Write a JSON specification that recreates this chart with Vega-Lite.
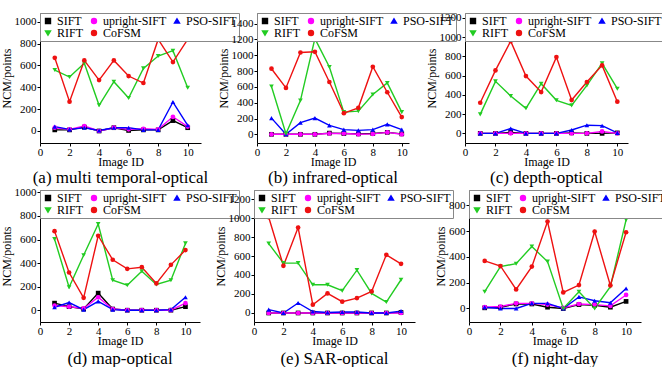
{
  "$schema": "https://vega.github.io/schema/vega-lite/v6.json",
  "padding": {"left": 0, "top": 11, "right": 0, "bottom": 0},
  "background": "white",
  "datasets": {
    "d": [
      {"p":"a","m":"SIFT","x":1,"y":10},{"p":"a","m":"SIFT","x":2,"y":10},{"p":"a","m":"SIFT","x":3,"y":35},{"p":"a","m":"SIFT","x":4,"y":0},{"p":"a","m":"SIFT","x":5,"y":30},{"p":"a","m":"SIFT","x":6,"y":5},{"p":"a","m":"SIFT","x":7,"y":10},{"p":"a","m":"SIFT","x":8,"y":10},{"p":"a","m":"SIFT","x":9,"y":95},{"p":"a","m":"SIFT","x":10,"y":30},
      {"p":"a","m":"upright-SIFT","x":1,"y":30},{"p":"a","m":"upright-SIFT","x":2,"y":15},{"p":"a","m":"upright-SIFT","x":3,"y":45},{"p":"a","m":"upright-SIFT","x":4,"y":0},{"p":"a","m":"upright-SIFT","x":5,"y":30},{"p":"a","m":"upright-SIFT","x":6,"y":15},{"p":"a","m":"upright-SIFT","x":7,"y":20},{"p":"a","m":"upright-SIFT","x":8,"y":15},{"p":"a","m":"upright-SIFT","x":9,"y":130},{"p":"a","m":"upright-SIFT","x":10,"y":40},
      {"p":"a","m":"PSO-SIFT","x":1,"y":40},{"p":"a","m":"PSO-SIFT","x":2,"y":15},{"p":"a","m":"PSO-SIFT","x":3,"y":30},{"p":"a","m":"PSO-SIFT","x":4,"y":5},{"p":"a","m":"PSO-SIFT","x":5,"y":30},{"p":"a","m":"PSO-SIFT","x":6,"y":30},{"p":"a","m":"PSO-SIFT","x":7,"y":10},{"p":"a","m":"PSO-SIFT","x":8,"y":10},{"p":"a","m":"PSO-SIFT","x":9,"y":265},{"p":"a","m":"PSO-SIFT","x":10,"y":52},
      {"p":"a","m":"RIFT","x":1,"y":558},{"p":"a","m":"RIFT","x":2,"y":494},{"p":"a","m":"RIFT","x":3,"y":619},{"p":"a","m":"RIFT","x":4,"y":235},{"p":"a","m":"RIFT","x":5,"y":451},{"p":"a","m":"RIFT","x":6,"y":302},{"p":"a","m":"RIFT","x":7,"y":573},{"p":"a","m":"RIFT","x":8,"y":686},{"p":"a","m":"RIFT","x":9,"y":735},{"p":"a","m":"RIFT","x":10,"y":396},
      {"p":"a","m":"CoFSM","x":1,"y":670},{"p":"a","m":"CoFSM","x":2,"y":268},{"p":"a","m":"CoFSM","x":3,"y":646},{"p":"a","m":"CoFSM","x":4,"y":466},{"p":"a","m":"CoFSM","x":5,"y":646},{"p":"a","m":"CoFSM","x":6,"y":503},{"p":"a","m":"CoFSM","x":7,"y":439},{"p":"a","m":"CoFSM","x":8,"y":838},{"p":"a","m":"CoFSM","x":9,"y":631},{"p":"a","m":"CoFSM","x":10,"y":838},

      {"p":"b","m":"SIFT","x":1,"y":0},{"p":"b","m":"SIFT","x":2,"y":0},{"p":"b","m":"SIFT","x":3,"y":0},{"p":"b","m":"SIFT","x":4,"y":0},{"p":"b","m":"SIFT","x":5,"y":15},{"p":"b","m":"SIFT","x":6,"y":10},{"p":"b","m":"SIFT","x":7,"y":5},{"p":"b","m":"SIFT","x":8,"y":10},{"p":"b","m":"SIFT","x":9,"y":25},{"p":"b","m":"SIFT","x":10,"y":5},
      {"p":"b","m":"upright-SIFT","x":1,"y":0},{"p":"b","m":"upright-SIFT","x":2,"y":0},{"p":"b","m":"upright-SIFT","x":3,"y":0},{"p":"b","m":"upright-SIFT","x":4,"y":0},{"p":"b","m":"upright-SIFT","x":5,"y":10},{"p":"b","m":"upright-SIFT","x":6,"y":10},{"p":"b","m":"upright-SIFT","x":7,"y":0},{"p":"b","m":"upright-SIFT","x":8,"y":5},{"p":"b","m":"upright-SIFT","x":9,"y":25},{"p":"b","m":"upright-SIFT","x":10,"y":0},
      {"p":"b","m":"PSO-SIFT","x":1,"y":205},{"p":"b","m":"PSO-SIFT","x":2,"y":0},{"p":"b","m":"PSO-SIFT","x":3,"y":147},{"p":"b","m":"PSO-SIFT","x":4,"y":205},{"p":"b","m":"PSO-SIFT","x":5,"y":113},{"p":"b","m":"PSO-SIFT","x":6,"y":59},{"p":"b","m":"PSO-SIFT","x":7,"y":50},{"p":"b","m":"PSO-SIFT","x":8,"y":59},{"p":"b","m":"PSO-SIFT","x":9,"y":126},{"p":"b","m":"PSO-SIFT","x":10,"y":59},
      {"p":"b","m":"RIFT","x":1,"y":604},{"p":"b","m":"RIFT","x":2,"y":8},{"p":"b","m":"RIFT","x":3,"y":427},{"p":"b","m":"RIFT","x":4,"y":1211},{"p":"b","m":"RIFT","x":5,"y":851},{"p":"b","m":"RIFT","x":6,"y":281},{"p":"b","m":"RIFT","x":7,"y":293},{"p":"b","m":"RIFT","x":8,"y":503},{"p":"b","m":"RIFT","x":9,"y":650},{"p":"b","m":"RIFT","x":10,"y":281},
      {"p":"b","m":"CoFSM","x":1,"y":830},{"p":"b","m":"CoFSM","x":2,"y":587},{"p":"b","m":"CoFSM","x":3,"y":1035},{"p":"b","m":"CoFSM","x":4,"y":1044},{"p":"b","m":"CoFSM","x":5,"y":662},{"p":"b","m":"CoFSM","x":6,"y":268},{"p":"b","m":"CoFSM","x":7,"y":335},{"p":"b","m":"CoFSM","x":8,"y":855},{"p":"b","m":"CoFSM","x":9,"y":532},{"p":"b","m":"CoFSM","x":10,"y":218},

      {"p":"c","m":"SIFT","x":1,"y":0},{"p":"c","m":"SIFT","x":2,"y":0},{"p":"c","m":"SIFT","x":3,"y":10},{"p":"c","m":"SIFT","x":4,"y":0},{"p":"c","m":"SIFT","x":5,"y":0},{"p":"c","m":"SIFT","x":6,"y":0},{"p":"c","m":"SIFT","x":7,"y":5},{"p":"c","m":"SIFT","x":8,"y":0},{"p":"c","m":"SIFT","x":9,"y":0},{"p":"c","m":"SIFT","x":10,"y":5},
      {"p":"c","m":"upright-SIFT","x":1,"y":0},{"p":"c","m":"upright-SIFT","x":2,"y":0},{"p":"c","m":"upright-SIFT","x":3,"y":0},{"p":"c","m":"upright-SIFT","x":4,"y":0},{"p":"c","m":"upright-SIFT","x":5,"y":0},{"p":"c","m":"upright-SIFT","x":6,"y":0},{"p":"c","m":"upright-SIFT","x":7,"y":0},{"p":"c","m":"upright-SIFT","x":8,"y":0},{"p":"c","m":"upright-SIFT","x":9,"y":20},{"p":"c","m":"upright-SIFT","x":10,"y":0},
      {"p":"c","m":"PSO-SIFT","x":1,"y":0},{"p":"c","m":"PSO-SIFT","x":2,"y":0},{"p":"c","m":"PSO-SIFT","x":3,"y":50},{"p":"c","m":"PSO-SIFT","x":4,"y":0},{"p":"c","m":"PSO-SIFT","x":5,"y":0},{"p":"c","m":"PSO-SIFT","x":6,"y":0},{"p":"c","m":"PSO-SIFT","x":7,"y":35},{"p":"c","m":"PSO-SIFT","x":8,"y":85},{"p":"c","m":"PSO-SIFT","x":9,"y":80},{"p":"c","m":"PSO-SIFT","x":10,"y":5},
      {"p":"c","m":"RIFT","x":1,"y":197},{"p":"c","m":"RIFT","x":2,"y":540},{"p":"c","m":"RIFT","x":3,"y":388},{"p":"c","m":"RIFT","x":4,"y":260},{"p":"c","m":"RIFT","x":5,"y":516},{"p":"c","m":"RIFT","x":6,"y":343},{"p":"c","m":"RIFT","x":7,"y":291},{"p":"c","m":"RIFT","x":8,"y":498},{"p":"c","m":"RIFT","x":9,"y":727},{"p":"c","m":"RIFT","x":10,"y":464},
      {"p":"c","m":"CoFSM","x":1,"y":318},{"p":"c","m":"CoFSM","x":2,"y":654},{"p":"c","m":"CoFSM","x":3,"y":958},{"p":"c","m":"CoFSM","x":4,"y":595},{"p":"c","m":"CoFSM","x":5,"y":429},{"p":"c","m":"CoFSM","x":6,"y":792},{"p":"c","m":"CoFSM","x":7,"y":346},{"p":"c","m":"CoFSM","x":8,"y":533},{"p":"c","m":"CoFSM","x":9,"y":706},{"p":"c","m":"CoFSM","x":10,"y":329},

      {"p":"d","m":"SIFT","x":1,"y":60},{"p":"d","m":"SIFT","x":2,"y":30},{"p":"d","m":"SIFT","x":3,"y":10},{"p":"d","m":"SIFT","x":4,"y":145},{"p":"d","m":"SIFT","x":5,"y":10},{"p":"d","m":"SIFT","x":6,"y":0},{"p":"d","m":"SIFT","x":7,"y":0},{"p":"d","m":"SIFT","x":8,"y":0},{"p":"d","m":"SIFT","x":9,"y":0},{"p":"d","m":"SIFT","x":10,"y":30},
      {"p":"d","m":"upright-SIFT","x":1,"y":40},{"p":"d","m":"upright-SIFT","x":2,"y":30},{"p":"d","m":"upright-SIFT","x":3,"y":15},{"p":"d","m":"upright-SIFT","x":4,"y":110},{"p":"d","m":"upright-SIFT","x":5,"y":10},{"p":"d","m":"upright-SIFT","x":6,"y":0},{"p":"d","m":"upright-SIFT","x":7,"y":0},{"p":"d","m":"upright-SIFT","x":8,"y":0},{"p":"d","m":"upright-SIFT","x":9,"y":0},{"p":"d","m":"upright-SIFT","x":10,"y":60},
      {"p":"d","m":"PSO-SIFT","x":1,"y":25},{"p":"d","m":"PSO-SIFT","x":2,"y":65},{"p":"d","m":"PSO-SIFT","x":3,"y":5},{"p":"d","m":"PSO-SIFT","x":4,"y":75},{"p":"d","m":"PSO-SIFT","x":5,"y":5},{"p":"d","m":"PSO-SIFT","x":6,"y":0},{"p":"d","m":"PSO-SIFT","x":7,"y":0},{"p":"d","m":"PSO-SIFT","x":8,"y":0},{"p":"d","m":"PSO-SIFT","x":9,"y":5},{"p":"d","m":"PSO-SIFT","x":10,"y":110},
      {"p":"d","m":"RIFT","x":1,"y":603},{"p":"d","m":"RIFT","x":2,"y":195},{"p":"d","m":"RIFT","x":3,"y":467},{"p":"d","m":"RIFT","x":4,"y":731},{"p":"d","m":"RIFT","x":5,"y":255},{"p":"d","m":"RIFT","x":6,"y":212},{"p":"d","m":"RIFT","x":7,"y":331},{"p":"d","m":"RIFT","x":8,"y":218},{"p":"d","m":"RIFT","x":9,"y":255},{"p":"d","m":"RIFT","x":10,"y":567},
      {"p":"d","m":"CoFSM","x":1,"y":671},{"p":"d","m":"CoFSM","x":2,"y":320},{"p":"d","m":"CoFSM","x":3,"y":105},{"p":"d","m":"CoFSM","x":4,"y":632},{"p":"d","m":"CoFSM","x":5,"y":428},{"p":"d","m":"CoFSM","x":6,"y":351},{"p":"d","m":"CoFSM","x":7,"y":365},{"p":"d","m":"CoFSM","x":8,"y":227},{"p":"d","m":"CoFSM","x":9,"y":385},{"p":"d","m":"CoFSM","x":10,"y":510},

      {"p":"e","m":"SIFT","x":1,"y":0},{"p":"e","m":"SIFT","x":2,"y":0},{"p":"e","m":"SIFT","x":3,"y":0},{"p":"e","m":"SIFT","x":4,"y":0},{"p":"e","m":"SIFT","x":5,"y":0},{"p":"e","m":"SIFT","x":6,"y":0},{"p":"e","m":"SIFT","x":7,"y":0},{"p":"e","m":"SIFT","x":8,"y":0},{"p":"e","m":"SIFT","x":9,"y":0},{"p":"e","m":"SIFT","x":10,"y":5},
      {"p":"e","m":"upright-SIFT","x":1,"y":0},{"p":"e","m":"upright-SIFT","x":2,"y":0},{"p":"e","m":"upright-SIFT","x":3,"y":0},{"p":"e","m":"upright-SIFT","x":4,"y":0},{"p":"e","m":"upright-SIFT","x":5,"y":0},{"p":"e","m":"upright-SIFT","x":6,"y":0},{"p":"e","m":"upright-SIFT","x":7,"y":0},{"p":"e","m":"upright-SIFT","x":8,"y":0},{"p":"e","m":"upright-SIFT","x":9,"y":0},{"p":"e","m":"upright-SIFT","x":10,"y":0},
      {"p":"e","m":"PSO-SIFT","x":1,"y":35},{"p":"e","m":"PSO-SIFT","x":2,"y":0},{"p":"e","m":"PSO-SIFT","x":3,"y":105},{"p":"e","m":"PSO-SIFT","x":4,"y":15},{"p":"e","m":"PSO-SIFT","x":5,"y":5},{"p":"e","m":"PSO-SIFT","x":6,"y":10},{"p":"e","m":"PSO-SIFT","x":7,"y":10},{"p":"e","m":"PSO-SIFT","x":8,"y":0},{"p":"e","m":"PSO-SIFT","x":9,"y":0},{"p":"e","m":"PSO-SIFT","x":10,"y":20},
      {"p":"e","m":"RIFT","x":1,"y":731},{"p":"e","m":"RIFT","x":2,"y":525},{"p":"e","m":"RIFT","x":3,"y":525},{"p":"e","m":"RIFT","x":4,"y":297},{"p":"e","m":"RIFT","x":5,"y":297},{"p":"e","m":"RIFT","x":6,"y":234},{"p":"e","m":"RIFT","x":7,"y":451},{"p":"e","m":"RIFT","x":8,"y":206},{"p":"e","m":"RIFT","x":9,"y":115},{"p":"e","m":"RIFT","x":10,"y":350},
      {"p":"e","m":"CoFSM","x":1,"y":1008},{"p":"e","m":"CoFSM","x":2,"y":497},{"p":"e","m":"CoFSM","x":3,"y":899},{"p":"e","m":"CoFSM","x":4,"y":87},{"p":"e","m":"CoFSM","x":5,"y":206},{"p":"e","m":"CoFSM","x":6,"y":119},{"p":"e","m":"CoFSM","x":7,"y":157},{"p":"e","m":"CoFSM","x":8,"y":227},{"p":"e","m":"CoFSM","x":9,"y":612},{"p":"e","m":"CoFSM","x":10,"y":518},

      {"p":"f","m":"SIFT","x":1,"y":5},{"p":"f","m":"SIFT","x":2,"y":10},{"p":"f","m":"SIFT","x":3,"y":35},{"p":"f","m":"SIFT","x":4,"y":35},{"p":"f","m":"SIFT","x":5,"y":10},{"p":"f","m":"SIFT","x":6,"y":0},{"p":"f","m":"SIFT","x":7,"y":30},{"p":"f","m":"SIFT","x":8,"y":25},{"p":"f","m":"SIFT","x":9,"y":10},{"p":"f","m":"SIFT","x":10,"y":55},
      {"p":"f","m":"upright-SIFT","x":1,"y":10},{"p":"f","m":"upright-SIFT","x":2,"y":15},{"p":"f","m":"upright-SIFT","x":3,"y":40},{"p":"f","m":"upright-SIFT","x":4,"y":40},{"p":"f","m":"upright-SIFT","x":5,"y":30},{"p":"f","m":"upright-SIFT","x":6,"y":5},{"p":"f","m":"upright-SIFT","x":7,"y":35},{"p":"f","m":"upright-SIFT","x":8,"y":30},{"p":"f","m":"upright-SIFT","x":9,"y":20},{"p":"f","m":"upright-SIFT","x":10,"y":105},
      {"p":"f","m":"PSO-SIFT","x":1,"y":10},{"p":"f","m":"PSO-SIFT","x":2,"y":0},{"p":"f","m":"PSO-SIFT","x":3,"y":0},{"p":"f","m":"PSO-SIFT","x":4,"y":40},{"p":"f","m":"PSO-SIFT","x":5,"y":40},{"p":"f","m":"PSO-SIFT","x":6,"y":0},{"p":"f","m":"PSO-SIFT","x":7,"y":90},{"p":"f","m":"PSO-SIFT","x":8,"y":60},{"p":"f","m":"PSO-SIFT","x":9,"y":45},{"p":"f","m":"PSO-SIFT","x":10,"y":155},
      {"p":"f","m":"RIFT","x":1,"y":130},{"p":"f","m":"RIFT","x":2,"y":325},{"p":"f","m":"RIFT","x":3,"y":348},{"p":"f","m":"RIFT","x":4,"y":481},{"p":"f","m":"RIFT","x":5,"y":364},{"p":"f","m":"RIFT","x":6,"y":0},{"p":"f","m":"RIFT","x":7,"y":130},{"p":"f","m":"RIFT","x":8,"y":0},{"p":"f","m":"RIFT","x":9,"y":169},{"p":"f","m":"RIFT","x":10,"y":688},
      {"p":"f","m":"CoFSM","x":1,"y":369},{"p":"f","m":"CoFSM","x":2,"y":330},{"p":"f","m":"CoFSM","x":3,"y":148},{"p":"f","m":"CoFSM","x":4,"y":325},{"p":"f","m":"CoFSM","x":5,"y":675},{"p":"f","m":"CoFSM","x":6,"y":125},{"p":"f","m":"CoFSM","x":7,"y":182},{"p":"f","m":"CoFSM","x":8,"y":597},{"p":"f","m":"CoFSM","x":9,"y":179},{"p":"f","m":"CoFSM","x":10,"y":592}
    ]
  },
  "vconcat": [
    {
      "hconcat": [
        {
          "width": 161, "height": 130,
          "title": {"text": "(a) multi temporal-optical", "offset": 3},
          "data": {"name": "d"},
          "transform": [{"filter": "datum.p == 'a'"}],
          "encoding": {
            "x": {"field": "x", "type": "quantitative", "scale": {"domain": [0, 10.9], "nice": false, "zero": false}, "axis": {"values": [0, 2, 4, 6, 8, 10], "title": "Image ID"}},
            "y": {"field": "y", "type": "quantitative", "scale": {"domain": [-110, 1080], "nice": false, "zero": false}, "axis": {"values": [0, 200, 400, 600, 800, 1000], "title": "NCM/points"}},
            "color": {"field": "m", "type": "nominal", "scale": {"domain": ["SIFT", "upright-SIFT", "PSO-SIFT", "RIFT", "CoFSM"], "range": ["#000000", "#ff00ff", "#0000ff", "#22cc22", "#ee1111"]}, "legend": {"title": null}}
          },
          "layer": [
            {"mark": {"type": "line", "strokeWidth": 1.4}},
            {"mark": {"type": "point", "filled": true, "size": 22, "opacity": 1}, "encoding": {"shape": {"field": "m", "type": "nominal", "scale": {"domain": ["SIFT", "upright-SIFT", "PSO-SIFT", "RIFT", "CoFSM"], "range": ["square", "circle", "triangle-up", "triangle-down", "circle"]}, "legend": {"title": null}}}}
          ]
        },
        {
          "width": 152, "height": 130,
          "title": {"text": "(b) infrared-optical", "offset": 3},
          "data": {"name": "d"},
          "transform": [{"filter": "datum.p == 'b'"}],
          "encoding": {
            "x": {"field": "x", "type": "quantitative", "scale": {"domain": [0, 10.5], "nice": false, "zero": false}, "axis": {"values": [0, 2, 4, 6, 8, 10], "title": "Image ID"}},
            "y": {"field": "y", "type": "quantitative", "scale": {"domain": [-110, 1535], "nice": false, "zero": false}, "axis": {"values": [0, 200, 400, 600, 800, 1000, 1200, 1400], "title": "NCM/points"}},
            "color": {"field": "m", "type": "nominal", "scale": {"domain": ["SIFT", "upright-SIFT", "PSO-SIFT", "RIFT", "CoFSM"], "range": ["#000000", "#ff00ff", "#0000ff", "#22cc22", "#ee1111"]}, "legend": {"title": null}}
          },
          "layer": [
            {"mark": {"type": "line", "strokeWidth": 1.4}},
            {"mark": {"type": "point", "filled": true, "size": 22, "opacity": 1}, "encoding": {"shape": {"field": "m", "type": "nominal", "scale": {"domain": ["SIFT", "upright-SIFT", "PSO-SIFT", "RIFT", "CoFSM"], "range": ["square", "circle", "triangle-up", "triangle-down", "circle"]}, "legend": {"title": null}}}}
          ]
        },
        {
          "width": 163, "height": 130,
          "title": {"text": "(c) depth-optical", "offset": 3},
          "data": {"name": "d"},
          "transform": [{"filter": "datum.p == 'c'"}],
          "encoding": {
            "x": {"field": "x", "type": "quantitative", "scale": {"domain": [0, 10.7], "nice": false, "zero": false}, "axis": {"values": [0, 2, 4, 6, 8, 10], "title": "Image ID"}},
            "y": {"field": "y", "type": "quantitative", "scale": {"domain": [-100, 1250], "nice": false, "zero": false}, "axis": {"values": [0, 200, 400, 600, 800, 1000, 1200], "title": "NCM/points"}},
            "color": {"field": "m", "type": "nominal", "scale": {"domain": ["SIFT", "upright-SIFT", "PSO-SIFT", "RIFT", "CoFSM"], "range": ["#000000", "#ff00ff", "#0000ff", "#22cc22", "#ee1111"]}, "legend": {"title": null}}
          },
          "layer": [
            {"mark": {"type": "line", "strokeWidth": 1.4}},
            {"mark": {"type": "point", "filled": true, "size": 22, "opacity": 1}, "encoding": {"shape": {"field": "m", "type": "nominal", "scale": {"domain": ["SIFT", "upright-SIFT", "PSO-SIFT", "RIFT", "CoFSM"], "range": ["square", "circle", "triangle-up", "triangle-down", "circle"]}, "legend": {"title": null}}}}
          ]
        }
      ],
      "spacing": 56,
      "bounds": "flush",
      "resolve": {"scale": {"x": "independent", "y": "independent", "color": "independent", "shape": "independent"}, "legend": {"color": "independent", "shape": "independent"}}
    },
    {
      "hconcat": [
        {
          "width": 160, "height": 132,
          "title": {"text": "(d) map-optical", "offset": 5},
          "data": {"name": "d"},
          "transform": [{"filter": "datum.p == 'd'"}],
          "encoding": {
            "x": {"field": "x", "type": "quantitative", "scale": {"domain": [0, 11], "nice": false, "zero": false}, "axis": {"values": [0, 2, 4, 6, 8, 10], "title": "Image ID"}},
            "y": {"field": "y", "type": "quantitative", "scale": {"domain": [-100, 1020], "nice": false, "zero": false}, "axis": {"values": [0, 200, 400, 600, 800, 1000], "title": "NCM/points"}},
            "color": {"field": "m", "type": "nominal", "scale": {"domain": ["SIFT", "upright-SIFT", "PSO-SIFT", "RIFT", "CoFSM"], "range": ["#000000", "#ff00ff", "#0000ff", "#22cc22", "#ee1111"]}, "legend": {"title": null}}
          },
          "layer": [
            {"mark": {"type": "line", "strokeWidth": 1.4}},
            {"mark": {"type": "point", "filled": true, "size": 22, "opacity": 1}, "encoding": {"shape": {"field": "m", "type": "nominal", "scale": {"domain": ["SIFT", "upright-SIFT", "PSO-SIFT", "RIFT", "CoFSM"], "range": ["square", "circle", "triangle-up", "triangle-down", "circle"]}, "legend": {"title": null}}}}
          ]
        },
        {
          "width": 161, "height": 132,
          "title": {"text": "(e) SAR-optical", "offset": 5},
          "data": {"name": "d"},
          "transform": [{"filter": "datum.p == 'e'"}],
          "encoding": {
            "x": {"field": "x", "type": "quantitative", "scale": {"domain": [0, 10.95], "nice": false, "zero": false}, "axis": {"values": [0, 2, 4, 6, 8, 10], "title": "Image ID"}},
            "y": {"field": "y", "type": "quantitative", "scale": {"domain": [-95, 1295], "nice": false, "zero": false}, "axis": {"values": [0, 200, 400, 600, 800, 1000, 1200], "title": "NCM/points"}},
            "color": {"field": "m", "type": "nominal", "scale": {"domain": ["SIFT", "upright-SIFT", "PSO-SIFT", "RIFT", "CoFSM"], "range": ["#000000", "#ff00ff", "#0000ff", "#22cc22", "#ee1111"]}, "legend": {"title": null}}
          },
          "layer": [
            {"mark": {"type": "line", "strokeWidth": 1.4}},
            {"mark": {"type": "point", "filled": true, "size": 22, "opacity": 1}, "encoding": {"shape": {"field": "m", "type": "nominal", "scale": {"domain": ["SIFT", "upright-SIFT", "PSO-SIFT", "RIFT", "CoFSM"], "range": ["square", "circle", "triangle-up", "triangle-down", "circle"]}, "legend": {"title": null}}}}
          ]
        },
        {
          "width": 172, "height": 132,
          "title": {"text": "(f) night-day", "offset": 5},
          "data": {"name": "d"},
          "transform": [{"filter": "datum.p == 'f'"}],
          "encoding": {
            "x": {"field": "x", "type": "quantitative", "scale": {"domain": [0, 10.95], "nice": false, "zero": false}, "axis": {"values": [0, 2, 4, 6, 8, 10], "title": "Image ID"}},
            "y": {"field": "y", "type": "quantitative", "scale": {"domain": [-105, 920], "nice": false, "zero": false}, "axis": {"values": [0, 200, 400, 600, 800], "title": "NCM/points"}},
            "color": {"field": "m", "type": "nominal", "scale": {"domain": ["SIFT", "upright-SIFT", "PSO-SIFT", "RIFT", "CoFSM"], "range": ["#000000", "#ff00ff", "#0000ff", "#22cc22", "#ee1111"]}, "legend": {"title": null}}
          },
          "layer": [
            {"mark": {"type": "line", "strokeWidth": 1.4}},
            {"mark": {"type": "point", "filled": true, "size": 22, "opacity": 1}, "encoding": {"shape": {"field": "m", "type": "nominal", "scale": {"domain": ["SIFT", "upright-SIFT", "PSO-SIFT", "RIFT", "CoFSM"], "range": ["square", "circle", "triangle-up", "triangle-down", "circle"]}, "legend": {"title": null}}}}
          ]
        }
      ],
      "spacing": 54,
      "bounds": "flush",
      "resolve": {"scale": {"x": "independent", "y": "independent", "color": "independent", "shape": "independent"}, "legend": {"color": "independent", "shape": "independent"}}
    }
  ],
  "spacing": 0,
  "resolve": {"scale": {"x": "independent", "y": "independent", "color": "independent", "shape": "independent"}, "legend": {"color": "independent", "shape": "independent"}},
  "config": {
    "font": "Liberation Serif",
    "view": {"stroke": null},
    "style": {"guide-label": {"font": "Liberation Serif"}, "guide-title": {"font": "Liberation Serif"}, "group-title": {"font": "Liberation Serif"}},
    "axis": {"grid": false, "domainColor": "#000", "tickColor": "#000", "labelColor": "#000", "titleColor": "#000", "labelFont": "Liberation Serif", "titleFont": "Liberation Serif", "labelFontSize": 11, "titleFontSize": 12, "titleFontWeight": "normal", "tickSize": 3, "labelPadding": 1, "labelFlush": false, "labelOverlap": false, "format": "d"},
    "axisX": {"titlePadding": -1, "labelPadding": 0},
    "axisY": {"titlePadding": 1},
    "legend": {"orient": "top-left", "offset": 0, "columns": 3, "direction": "horizontal", "strokeColor": "#888888", "fillColor": "white", "padding": 2, "labelFont": "Liberation Serif", "labelFontSize": 12, "labelColor": "#000", "symbolSize": 24, "rowPadding": 0, "columnPadding": 4, "symbolOpacity": 1, "labelOffset": 3},
    "title": {"orient": "bottom", "fontSize": 17, "fontWeight": "normal", "font": "Liberation Serif", "color": "#000"}
  }
}
